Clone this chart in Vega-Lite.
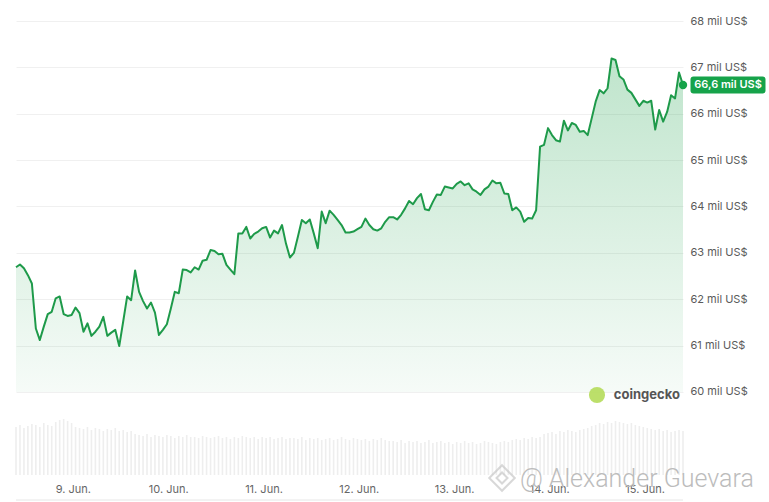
{
  "$schema": "https://vega.github.io/schema/vega-lite/v6.json",
  "width": 667,
  "height": 454,
  "autosize": {"type": "none"},
  "padding": {"left": 16, "top": 21, "right": 86, "bottom": 27},
  "background": "white",
  "config": {
    "font": "Inter",
    "view": {"stroke": null},
    "scale": {"continuousPadding": 0},
    "axisX": {
      "title": null, "grid": false, "ticks": false, "domain": false,
      "tickCount": {"interval": "day", "step": 1},
      "labelExpr": "timeFormat(datum.value, '%-d') + '. Jun.'",
      "labelPadding": 8, "labelFontSize": 11, "labelColor": "#666666", "labelFont": "Inter", "labelFlush": false
    }
  },
  "datasets": {
    "main": [
      {"t":"2024-06-08T09:40","p":62.69,"v":48},{"t":"2024-06-08T10:40","p":62.75,"v":50},{"t":"2024-06-08T11:40","p":62.67,"v":47},{"t":"2024-06-08T12:40","p":62.52,"v":49},{"t":"2024-06-08T13:40","p":62.34,"v":51},{"t":"2024-06-08T14:40","p":61.37,"v":50},{"t":"2024-06-08T15:40","p":61.12,"v":48},{"t":"2024-06-08T16:40","p":61.41,"v":52},{"t":"2024-06-08T17:40","p":61.68,"v":50},{"t":"2024-06-08T18:40","p":61.73,"v":49},{"t":"2024-06-08T19:40","p":62.02,"v":53},{"t":"2024-06-08T20:40","p":62.06,"v":55},{"t":"2024-06-08T21:40","p":61.68,"v":56},{"t":"2024-06-08T22:40","p":61.64,"v":54},{"t":"2024-06-08T23:40","p":61.66,"v":52},
      {"t":"2024-06-09T00:40","p":61.82,"v":48},{"t":"2024-06-09T01:40","p":61.70,"v":47},{"t":"2024-06-09T02:40","p":61.30,"v":46},{"t":"2024-06-09T03:40","p":61.48,"v":48},{"t":"2024-06-09T04:40","p":61.21,"v":45},{"t":"2024-06-09T05:40","p":61.30,"v":47},{"t":"2024-06-09T06:40","p":61.41,"v":46},{"t":"2024-06-09T07:40","p":61.62,"v":44},{"t":"2024-06-09T08:40","p":61.21,"v":46},{"t":"2024-06-09T09:40","p":61.28,"v":45},{"t":"2024-06-09T10:40","p":61.34,"v":47},{"t":"2024-06-09T11:40","p":60.99,"v":44},{"t":"2024-06-09T12:40","p":61.52,"v":45},{"t":"2024-06-09T13:40","p":62.06,"v":43},{"t":"2024-06-09T14:40","p":61.98,"v":44},{"t":"2024-06-09T15:40","p":62.62,"v":41},{"t":"2024-06-09T16:40","p":62.16,"v":40},{"t":"2024-06-09T17:40","p":61.96,"v":39},{"t":"2024-06-09T18:40","p":61.80,"v":41},{"t":"2024-06-09T19:40","p":61.93,"v":38},{"t":"2024-06-09T20:40","p":61.71,"v":40},{"t":"2024-06-09T21:40","p":61.23,"v":39},{"t":"2024-06-09T22:40","p":61.34,"v":38},{"t":"2024-06-09T23:40","p":61.46,"v":40},
      {"t":"2024-06-10T00:40","p":61.80,"v":39},{"t":"2024-06-10T01:40","p":62.16,"v":37},{"t":"2024-06-10T02:40","p":62.13,"v":39},{"t":"2024-06-10T03:40","p":62.64,"v":38},{"t":"2024-06-10T04:40","p":62.63,"v":40},{"t":"2024-06-10T05:40","p":62.58,"v":38},{"t":"2024-06-10T06:40","p":62.69,"v":38},{"t":"2024-06-10T07:40","p":62.64,"v":37},{"t":"2024-06-10T08:40","p":62.83,"v":39},{"t":"2024-06-10T09:40","p":62.85,"v":38},{"t":"2024-06-10T10:40","p":63.06,"v":37},{"t":"2024-06-10T11:40","p":63.04,"v":38},{"t":"2024-06-10T12:40","p":62.97,"v":39},{"t":"2024-06-10T13:40","p":62.98,"v":37},{"t":"2024-06-10T14:40","p":62.74,"v":38},{"t":"2024-06-10T15:40","p":62.64,"v":36},{"t":"2024-06-10T16:40","p":62.54,"v":38},{"t":"2024-06-10T17:40","p":63.42,"v":37},{"t":"2024-06-10T18:40","p":63.42,"v":39},{"t":"2024-06-10T19:40","p":63.56,"v":38},{"t":"2024-06-10T20:40","p":63.31,"v":37},{"t":"2024-06-10T21:40","p":63.41,"v":38},{"t":"2024-06-10T22:40","p":63.46,"v":36},{"t":"2024-06-10T23:40","p":63.53,"v":38},
      {"t":"2024-06-11T00:40","p":63.56,"v":37},{"t":"2024-06-11T01:40","p":63.33,"v":38},{"t":"2024-06-11T02:40","p":63.48,"v":36},{"t":"2024-06-11T03:40","p":63.42,"v":37},{"t":"2024-06-11T04:40","p":63.60,"v":38},{"t":"2024-06-11T05:40","p":63.20,"v":36},{"t":"2024-06-11T06:40","p":62.90,"v":37},{"t":"2024-06-11T07:40","p":63.00,"v":37},{"t":"2024-06-11T08:40","p":63.35,"v":36},{"t":"2024-06-11T09:40","p":63.71,"v":38},{"t":"2024-06-11T10:40","p":63.64,"v":35},{"t":"2024-06-11T11:40","p":63.72,"v":37},{"t":"2024-06-11T12:40","p":63.42,"v":36},{"t":"2024-06-11T13:40","p":63.10,"v":37},{"t":"2024-06-11T14:40","p":63.89,"v":35},{"t":"2024-06-11T15:40","p":63.64,"v":36},{"t":"2024-06-11T16:40","p":63.91,"v":37},{"t":"2024-06-11T17:40","p":63.82,"v":35},{"t":"2024-06-11T18:40","p":63.71,"v":36},{"t":"2024-06-11T19:40","p":63.60,"v":38},{"t":"2024-06-11T20:40","p":63.44,"v":36},{"t":"2024-06-11T21:40","p":63.44,"v":35},{"t":"2024-06-11T22:40","p":63.46,"v":37},{"t":"2024-06-11T23:40","p":63.51,"v":36},
      {"t":"2024-06-12T00:40","p":63.56,"v":35},{"t":"2024-06-12T01:40","p":63.74,"v":36},{"t":"2024-06-12T02:40","p":63.60,"v":34},{"t":"2024-06-12T03:40","p":63.51,"v":36},{"t":"2024-06-12T04:40","p":63.48,"v":35},{"t":"2024-06-12T05:40","p":63.53,"v":37},{"t":"2024-06-12T06:40","p":63.67,"v":35},{"t":"2024-06-12T07:40","p":63.77,"v":34},{"t":"2024-06-12T08:40","p":63.77,"v":34},{"t":"2024-06-12T09:40","p":63.72,"v":33},{"t":"2024-06-12T10:40","p":63.82,"v":35},{"t":"2024-06-12T11:40","p":63.96,"v":32},{"t":"2024-06-12T12:40","p":64.12,"v":34},{"t":"2024-06-12T13:40","p":64.05,"v":33},{"t":"2024-06-12T14:40","p":64.18,"v":34},{"t":"2024-06-12T15:40","p":64.27,"v":32},{"t":"2024-06-12T16:40","p":63.94,"v":33},{"t":"2024-06-12T17:40","p":63.92,"v":35},{"t":"2024-06-12T18:40","p":64.10,"v":32},{"t":"2024-06-12T19:40","p":64.26,"v":33},{"t":"2024-06-12T20:40","p":64.25,"v":34},{"t":"2024-06-12T21:40","p":64.43,"v":32},{"t":"2024-06-12T22:40","p":64.41,"v":33},{"t":"2024-06-12T23:40","p":64.39,"v":31},
      {"t":"2024-06-13T00:40","p":64.49,"v":33},{"t":"2024-06-13T01:40","p":64.54,"v":32},{"t":"2024-06-13T02:40","p":64.46,"v":34},{"t":"2024-06-13T03:40","p":64.50,"v":32},{"t":"2024-06-13T04:40","p":64.37,"v":33},{"t":"2024-06-13T05:40","p":64.32,"v":31},{"t":"2024-06-13T06:40","p":64.25,"v":32},{"t":"2024-06-13T07:40","p":64.37,"v":34},{"t":"2024-06-13T08:40","p":64.43,"v":33},{"t":"2024-06-13T09:40","p":64.56,"v":32},{"t":"2024-06-13T10:40","p":64.50,"v":31},{"t":"2024-06-13T11:40","p":64.51,"v":33},{"t":"2024-06-13T12:40","p":64.28,"v":34},{"t":"2024-06-13T13:40","p":64.27,"v":33},{"t":"2024-06-13T14:40","p":63.92,"v":35},{"t":"2024-06-13T15:40","p":63.98,"v":36},{"t":"2024-06-13T16:40","p":63.89,"v":35},{"t":"2024-06-13T17:40","p":63.67,"v":37},{"t":"2024-06-13T18:40","p":63.75,"v":36},{"t":"2024-06-13T19:40","p":63.74,"v":38},{"t":"2024-06-13T20:40","p":63.92,"v":37},{"t":"2024-06-13T21:40","p":65.29,"v":38},{"t":"2024-06-13T22:40","p":65.33,"v":41},{"t":"2024-06-13T23:40","p":65.69,"v":42},
      {"t":"2024-06-14T00:40","p":65.54,"v":43},{"t":"2024-06-14T01:40","p":65.43,"v":41},{"t":"2024-06-14T02:40","p":65.40,"v":44},{"t":"2024-06-14T03:40","p":65.85,"v":43},{"t":"2024-06-14T04:40","p":65.64,"v":45},{"t":"2024-06-14T05:40","p":65.80,"v":44},{"t":"2024-06-14T06:40","p":65.76,"v":43},{"t":"2024-06-14T07:40","p":65.61,"v":45},{"t":"2024-06-14T08:40","p":65.63,"v":46},{"t":"2024-06-14T09:40","p":65.54,"v":47},{"t":"2024-06-14T10:40","p":65.90,"v":49},{"t":"2024-06-14T11:40","p":66.26,"v":50},{"t":"2024-06-14T12:40","p":66.51,"v":52},{"t":"2024-06-14T13:40","p":66.44,"v":51},{"t":"2024-06-14T14:40","p":66.55,"v":53},{"t":"2024-06-14T15:40","p":67.19,"v":52},{"t":"2024-06-14T16:40","p":67.16,"v":54},{"t":"2024-06-14T17:40","p":66.81,"v":53},{"t":"2024-06-14T18:40","p":66.74,"v":52},{"t":"2024-06-14T19:40","p":66.52,"v":51},{"t":"2024-06-14T20:40","p":66.45,"v":52},{"t":"2024-06-14T21:40","p":66.31,"v":50},{"t":"2024-06-14T22:40","p":66.17,"v":49},{"t":"2024-06-14T23:40","p":66.28,"v":48},
      {"t":"2024-06-15T00:40","p":66.24,"v":47},{"t":"2024-06-15T01:40","p":66.28,"v":46},{"t":"2024-06-15T02:40","p":65.66,"v":45},{"t":"2024-06-15T03:40","p":66.08,"v":46},{"t":"2024-06-15T04:40","p":65.83,"v":44},{"t":"2024-06-15T05:40","p":66.04,"v":45},{"t":"2024-06-15T06:40","p":66.40,"v":43},{"t":"2024-06-15T07:40","p":66.33,"v":44},{"t":"2024-06-15T08:40","p":66.89,"v":45},{"t":"2024-06-15T09:40","p":66.62,"v":44}
    ],
    "last": [{"t":"2024-06-15T09:40","p":66.62,"label":"66,6 mil US$"}],
    "brandLogo": [{"t":"2024-06-14T12:00","p":59.935}],
    "brandText": [{"t":"2024-06-14T16:15","p":59.935,"label":"coingecko"}],
    "bottomLine": [{"v":-25}],
    "wmLogo": [{"t":"2024-06-13T12:05","v":-3}],
    "wmText": [{"t":"2024-06-13T16:35","v":-4,"label":"@ Alexander Guevara"}]
  },
  "layer": [
    {
      "encoding": {
        "x": {"field": "t", "type": "temporal", "scale": {"nice": false, "padding": 0}},
        "y": {
          "field": "p", "type": "quantitative",
          "scale": {"domain": [58.2102, 68], "nice": false, "zero": false},
          "axis": {
            "orient": "right", "title": null, "values": [60, 61, 62, 63, 64, 65, 66, 67, 68],
            "labelExpr": "datum.value + ' mil US$'",
            "grid": true, "gridColor": "#f0f0f0", "gridWidth": 1,
            "ticks": false, "domain": false, "labelPadding": 7,
            "labelFontSize": 11, "labelColor": "#5a5a5a", "labelFont": "Inter"
          }
        }
      },
      "layer": [
        {
          "data": {"name": "main"},
          "mark": {
            "type": "area",
            "fill": {
              "gradient": "linear", "x1": 0, "y1": 0, "x2": 0, "y2": 1,
              "stops": [
                {"offset": 0, "color": "rgba(26,160,72,0.28)"},
                {"offset": 1, "color": "rgba(26,160,72,0.04)"}
              ]
            }
          },
          "encoding": {"y2": {"datum": 60}}
        },
        {
          "data": {"name": "main"},
          "mark": {"type": "line", "color": "#1e9a4a", "strokeWidth": 2, "strokeJoin": "round"}
        },
        {
          "data": {"name": "last"},
          "mark": {"type": "point", "filled": true, "color": "#16a34a", "size": 70, "opacity": 1}
        },
        {
          "data": {"name": "last"},
          "mark": {
            "type": "point", "filled": true, "color": "#16a34a", "opacity": 1, "size": 5625, "xOffset": 45,
            "shape": "M-0.92,-0.227L0.92,-0.227Q1,-0.227,1,-0.147L1,0.147Q1,0.227,0.92,0.227L-0.92,0.227Q-1,0.227,-1,0.147L-1,-0.147Q-1,-0.227,-0.92,-0.227Z"
          }
        },
        {
          "data": {"name": "last"},
          "mark": {"type": "text", "color": "white", "fontSize": 11, "fontWeight": 600, "font": "Inter", "align": "center", "baseline": "middle", "xOffset": 45, "yOffset": 0.5},
          "encoding": {"text": {"field": "label"}}
        },
        {
          "data": {"name": "brandLogo"},
          "mark": {"type": "point", "filled": true, "color": "#b5dc5a", "size": 260, "opacity": 0.9}
        },
        {
          "data": {"name": "brandText"},
          "mark": {"type": "text", "color": "#555555", "fontSize": 13, "fontWeight": "bold", "font": "Inter", "align": "left", "baseline": "middle"},
          "encoding": {"text": {"field": "label"}}
        }
      ]
    },
    {
      "encoding": {
        "x": {"field": "t", "type": "temporal", "scale": {"nice": false, "padding": 0}},
        "y": {"field": "v", "type": "quantitative", "scale": {"domain": [0, 454], "nice": false}, "axis": null}
      },
      "layer": [
        {
          "data": {"name": "main"},
          "mark": {"type": "bar", "width": 1.6, "color": "#eeeeee"}
        },
        {
          "data": {"name": "bottomLine"},
          "mark": {"type": "rule", "color": "#e6e6e6", "strokeWidth": 1},
          "encoding": {
            "x": {"value": 0},
            "x2": {"value": 667}
          }
        },
        {
          "data": {"name": "wmLogo"},
          "mark": {"type": "point", "shape": "diamond", "filled": false, "color": "#c8c8c8", "strokeWidth": 2, "size": 650}
        },
        {
          "data": {"name": "wmLogo"},
          "mark": {"type": "point", "shape": "diamond", "filled": false, "color": "#c8c8c8", "strokeWidth": 2, "size": 120}
        },
        {
          "data": {"name": "wmText"},
          "mark": {"type": "text", "color": "#bcbcbc", "fontSize": 25, "font": "Roboto", "fontWeight": 300, "align": "left", "baseline": "middle"},
          "encoding": {"text": {"field": "label"}}
        }
      ]
    }
  ],
  "resolve": {"scale": {"y": "independent"}, "axis": {"y": "independent"}}
}
